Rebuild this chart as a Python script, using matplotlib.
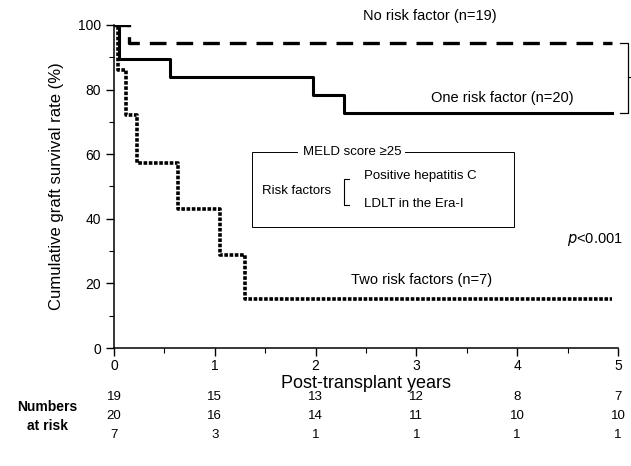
import matplotlib
matplotlib.use('Agg')
import matplotlib.pyplot as plt
from matplotlib.patches import Rectangle

plt.rcParams['font.family'] = ['Liberation Sans', 'DejaVu Sans']

# ── Data ──────────────────────────────────────────────────────────────────────
no_risk_t = [0, 0.15, 4.94]
no_risk_s = [100, 94.5, 94.5]

one_risk_t = [0, 0.05, 0.56, 1.97, 2.28, 4.94]
one_risk_s = [100, 89.5, 83.8, 78.3, 72.7, 72.7]

two_risk_t = [0, 0.04, 0.12, 0.23, 0.63, 1.05, 1.3, 4.94]
two_risk_s = [100, 86, 72, 57.2, 43, 28.8, 15.2, 15.2]

years = [0, 1, 2, 3, 4, 5]
at_risk_none = [19, 15, 13, 12, 8, 7]
at_risk_one = [20, 16, 14, 11, 10, 10]
at_risk_two = [7, 3, 1, 1, 1, 1]

# ── Figure ─────────────────────────────────────────────────────────────────────
fig = plt.figure(figsize=(6.31, 4.66), dpi=100)
ax = fig.add_axes([0.1807, 0.2532, 0.7987, 0.6932])

ax.step(no_risk_t, no_risk_s, where='post', color='black', linewidth=2.4,
        linestyle=(0, (5, 3)), dash_capstyle='butt')
ax.step(one_risk_t, one_risk_s, where='post', color='black', linewidth=2.2)
ax.step(two_risk_t, two_risk_s, where='post', color='black', linewidth=2.6,
        linestyle=(0, (1, 0.45)), dash_capstyle='butt')

ax.set_xlim(0, 5)
ax.set_ylim(0, 100)
ax.set_xticks(years)
ax.set_xticks([0.5, 1.5, 2.5, 3.5, 4.5], minor=True)
ax.set_yticks(range(0, 101, 20))
ax.set_yticks(range(10, 100, 20), minor=True)
ax.tick_params(which='major', direction='out', length=6, width=1, labelsize=10)
ax.tick_params(which='minor', direction='out', length=3.5, width=0.8)
ax.tick_params(axis='x', pad=2)
for s in ['top', 'right']:
    ax.spines[s].set_visible(False)
for s in ['left', 'bottom']:
    ax.spines[s].set_linewidth(1.1)

ax.set_xlabel('Post\u2010transplant years', fontsize=13, labelpad=1)
ax.set_ylabel('Cumulative graft survival rate (%)', fontsize=12, labelpad=10)

# curve labels
ax.text(2.47, 102.8, 'No risk factor (n=19)', fontsize=10.5, va='center', clip_on=False)
ax.text(3.14, 77.4, 'One risk factor (n=20)', fontsize=10.5, va='center')
ax.text(2.35, 21.1, 'Two risk factors (n=7)', fontsize=10.5, va='center')
ax.text(4.49, 33.7, '$\\it{p}$<0.001', fontsize=10.5, va='center')

# bracket joining the upper two curves
ax.plot([5.02, 5.10, 5.10, 5.02], [94.5, 94.5, 72.7, 72.7], color='black',
        linewidth=0.9, clip_on=False)
ax.plot([5.10, 5.13], [84, 84], color='black', linewidth=0.8, clip_on=False)

# risk factor box
ax.add_patch(Rectangle((1.37, 37.5), 2.6, 23.2, fill=False, edgecolor='black',
                       linewidth=0.7))
ax.text(2.36, 60.7, 'MELD score \u226525', fontsize=9.5, ha='center', va='center',
        bbox=dict(facecolor='white', edgecolor='none', pad=3))
ax.text(1.47, 48.5, 'Risk factors', fontsize=9.5, va='center')
ax.plot([2.33, 2.28, 2.28, 2.33], [52.3, 52.3, 44.3, 44.3], color='black',
        linewidth=0.8)
ax.text(2.48, 53.2, 'Positive hepatitis C', fontsize=9.5, va='center')
ax.text(2.48, 44.6, 'LDLT in the Era-I', fontsize=9.5, va='center')

# numbers at risk
for i, yr in enumerate(years):
    for row, vals in zip([397, 416, 435], [at_risk_none, at_risk_one, at_risk_two]):
        fig.text((114 + yr * 100.8) / 631, 1 - row / 466, str(vals[i]),
                 fontsize=9.5, ha='center', va='center')
fig.text(47 / 631, 1 - 407 / 466, 'Numbers', fontsize=10, fontweight='bold',
         ha='center', va='center')
fig.text(47 / 631, 1 - 426 / 466, 'at risk', fontsize=10, fontweight='bold',
         ha='center', va='center')

fig.savefig('out.png', dpi=100)
